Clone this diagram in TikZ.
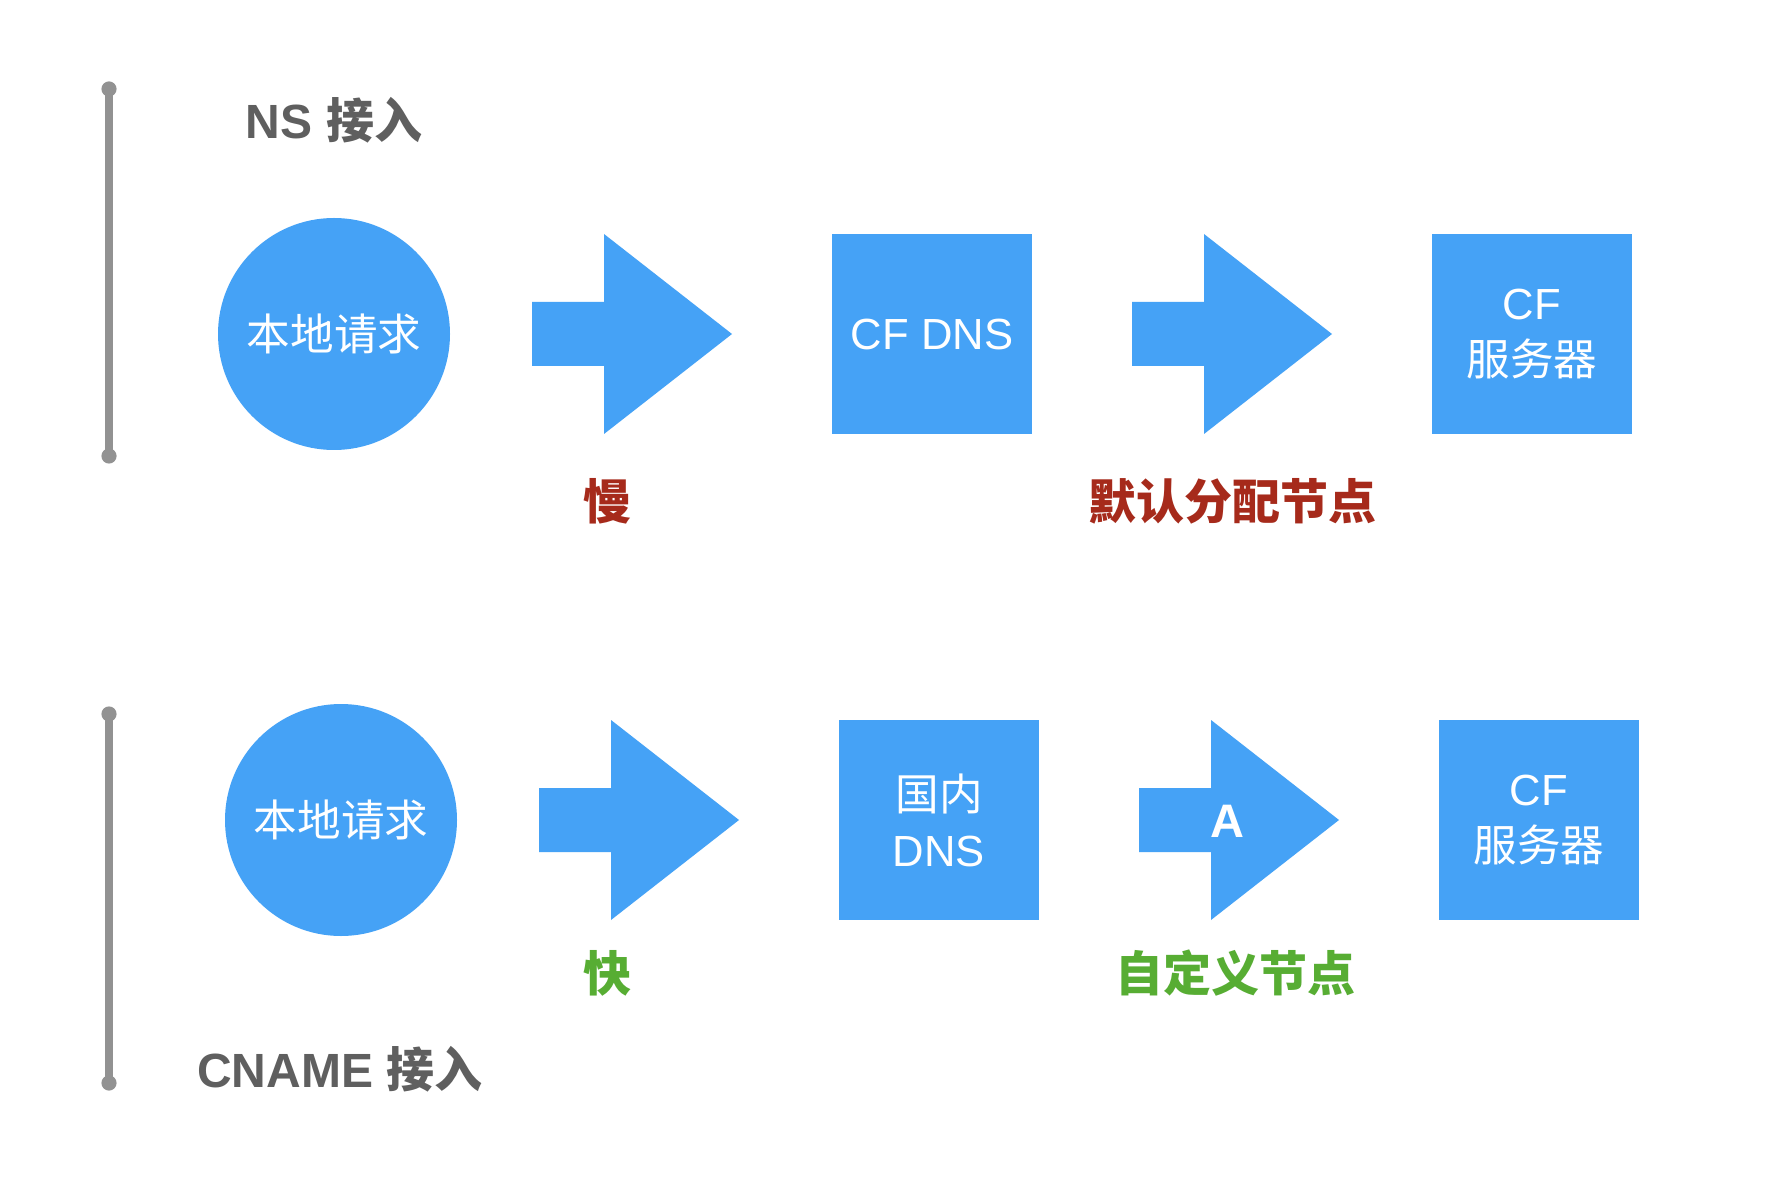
\documentclass[tikz,border=0pt]{standalone}
\usepackage{fontspec}
\setmainfont{Liberation Sans}
\newfontfamily\cjk{Noto Sans CJK SC}
\newcommand\zh[1]{{\cjk #1}}
\definecolor{fillblue}{RGB}{69,162,246}
\definecolor{linegray}{RGB}{146,146,146}
\definecolor{titlegray}{RGB}{95,95,95}
\definecolor{slowred}{RGB}{166,42,27}
\definecolor{fastgreen}{RGB}{87,173,51}
\begin{document}
\begin{tikzpicture}[x=0.5pt,y=-0.5pt,
  bluebox/.style={fill=fillblue, draw=none, minimum size=100pt, inner sep=0pt,
    text=white, align=center, font=\fontsize{21.8pt}{28pt}\selectfont},
  bluecirc/.style={circle, fill=fillblue, draw=none, minimum size=116pt, inner sep=0pt,
    text=white, font=\fontsize{21.8pt}{28pt}\selectfont},
  arrowshape/.style={fill=fillblue},
  title/.style={text=titlegray, font=\bfseries\fontsize{24pt}{28pt}\selectfont, inner sep=0pt},
  slowlabel/.style={text=slowred, font=\bfseries\fontsize{24pt}{28pt}\selectfont, inner sep=0pt},
  fastlabel/.style={text=fastgreen, font=\bfseries\fontsize{24pt}{28pt}\selectfont, inner sep=0pt},
  barline/.style={draw=linegray, line width=4pt, line cap=round},
  barend/.style={fill=linegray}
]
\useasboundingbox (0,0) rectangle (1778,1192);
\fill[white] (0,0) rectangle (1778,1192);

% ---------- row 1 : NS ----------
\coordinate (b1t) at (109,89);
\coordinate (b1b) at (109,456);
\draw[barline] (b1t) -- (b1b);
\fill[barend] (b1t) circle[radius=3.8pt];
\fill[barend] (b1b) circle[radius=3.8pt];
\node[title] (ns) at (334,120) {NS \zh{\bfseries 接入}};

\node[bluecirc] (req1) at (334,334) {\zh{本地请求}};
\fill[arrowshape] (532,302) -- (604,302) -- (604,234) -- (732,334) -- (604,434) -- (604,366) -- (532,366) -- cycle;
\node[bluebox] (cfdns) at (932,334) {CF DNS};
\fill[arrowshape] (1132,302) -- (1204,302) -- (1204,234) -- (1332,334) -- (1204,434) -- (1204,366) -- (1132,366) -- cycle;
\node[bluebox] (cfsrv1) at (1532,334) {CF\\\zh{服务器}};
\node[slowlabel] (slow) at (607,501) {\zh{\bfseries 慢}};
\node[slowlabel] (dflt) at (1232,501) {\zh{\bfseries 默认分配节点}};

% ---------- row 2 : CNAME ----------
\coordinate (b2t) at (109,714);
\coordinate (b2b) at (109,1083);
\draw[barline] (b2t) -- (b2b);
\fill[barend] (b2t) circle[radius=3.8pt];
\fill[barend] (b2b) circle[radius=3.8pt];
\node[title] (cname) at (340,1069) {CNAME \zh{\bfseries 接入}};

\node[bluecirc] (req2) at (341,820) {\zh{本地请求}};
\fill[arrowshape] (539,788) -- (611,788) -- (611,720) -- (739,820) -- (611,920) -- (611,852) -- (539,852) -- cycle;
\node[bluebox] (cndns) at (939,820) {\zh{国内}\\DNS};
\fill[arrowshape] (1139,788) -- (1211,788) -- (1211,720) -- (1339,820) -- (1211,920) -- (1211,852) -- (1139,852) -- cycle;
\node[text=white, font=\bfseries\fontsize{23.5pt}{28pt}\selectfont, inner sep=0pt] (arec) at (1227,821) {A};
\node[bluebox] (cfsrv2) at (1539,820) {CF\\\zh{服务器}};
\node[fastlabel] (fast) at (607,973) {\zh{\bfseries 快}};
\node[fastlabel] (cust) at (1235,973) {\zh{\bfseries 自定义节点}};
\end{tikzpicture}
\end{document}
